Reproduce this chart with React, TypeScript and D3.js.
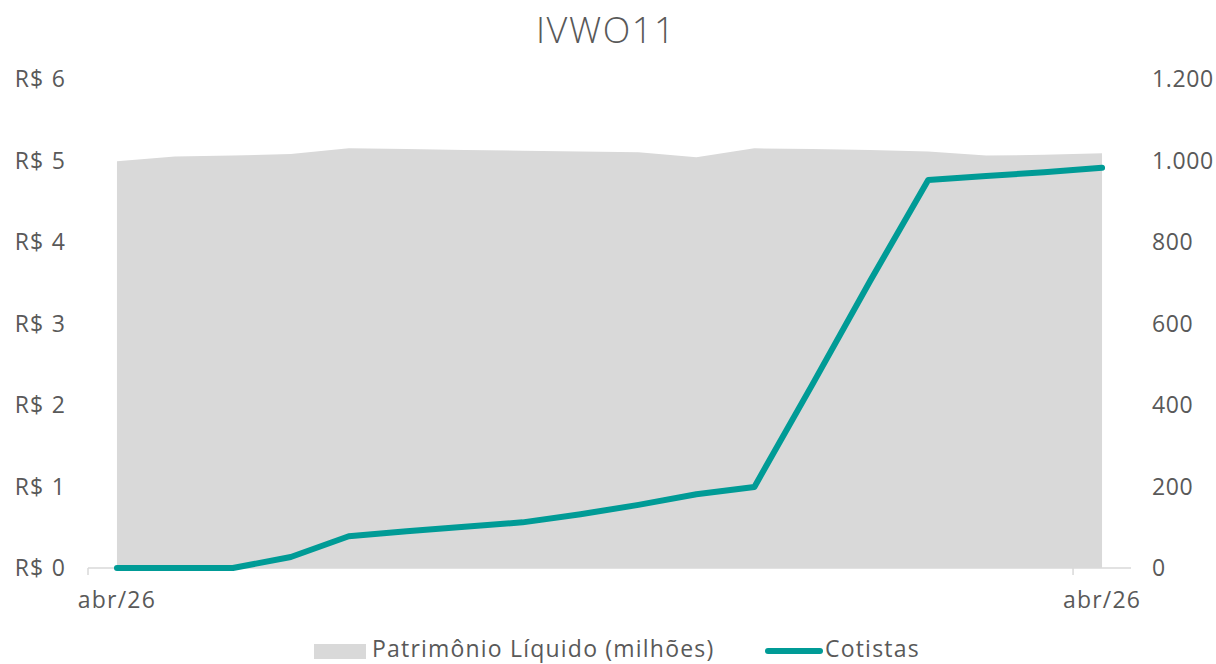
import React from "react";
import * as d3 from "d3";

const title = "IVWO11";
const xLabels = ["abr/26", "abr/26"];
const patrimonio = [4.99, 5.05, 5.06, 5.08, 5.15, 5.14, 5.13, 5.12, 5.11, 5.1, 5.04, 5.15, 5.14, 5.13, 5.11, 5.06, 5.07, 5.09];
const cotistas = [0, 0, 0, 27, 78, 90, 101, 112, 132, 155, 181, 199, 450, 705, 952, 962, 971, 982];
const leftTicks = [0, 1, 2, 3, 4, 5, 6];
const rightTicks = [0, 200, 400, 600, 800, 1000, 1200];
const legendLabels = ["Patrimônio Líquido (milhões)", "Cotistas"];

const W = 1216;
const H = 664;
const FONT = "'Open Sans', sans-serif";
const TEXT = "#595959";
const LS = 1.2;

export default function App() {
  const n = patrimonio.length;
  const x = d3.scaleLinear().domain([-0.5, n - 0.5]).range([88, 1131]);
  const yL = d3.scaleLinear().domain([0, 6]).range([568, 79]);
  const yR = d3.scaleLinear().domain([0, 1200]).range([568, 79]);

  const area = d3
    .area<number>()
    .x((_, i) => x(i))
    .y0(yL(0))
    .y1((d) => yL(d));
  const line = d3
    .line<number>()
    .x((_, i) => x(i))
    .y((d) => yR(d));

  const fmtR = (v: number) => d3.format(",")(v).replace(/,/g, ".");

  return (
    <svg width={W} height={H} style={{ position: "absolute", left: 0, top: 0, background: "#fff" }} fontFamily={FONT}>
      <text x={606} y={43} textAnchor="middle" fontSize={36} fill={TEXT} fontWeight={300} letterSpacing={1.6}>
        {title}
      </text>
      <path d={area(patrimonio) ?? ""} fill="#D9D9D9" />
      <line x1={x(-0.5)} x2={x(n - 0.5)} y1={yL(0)} y2={yL(0)} stroke="#D9D9D9" strokeWidth={1.5} />
      {[-0.5, n - 1.5].map((t, i) => (
        <line key={i} x1={x(t)} x2={x(t)} y1={yL(0)} y2={yL(0) + 7} stroke="#D9D9D9" strokeWidth={1.5} />
      ))}
      <path d={line(cotistas) ?? ""} fill="none" stroke="#009B96" strokeWidth={6} strokeLinecap="round" strokeLinejoin="round" />
      {leftTicks.map((t) => (
        <text key={t} x={66} y={yL(t) + 8} textAnchor="end" fontSize={23} fill={TEXT} letterSpacing={LS}>
          {`R$ ${t}`}
        </text>
      ))}
      {rightTicks.map((t) => (
        <text key={t} x={1152} y={yR(t) + 8} textAnchor="start" fontSize={23} fill={TEXT} letterSpacing={0.6}>
          {fmtR(t)}
        </text>
      ))}
      {[0, n - 1].map((t, i) => (
        <text key={i} x={x(t)} y={608} textAnchor="middle" fontSize={23} fill={TEXT} letterSpacing={LS}>
          {xLabels[i]}
        </text>
      ))}
      <rect x={314} y={644} width={52} height={15} fill="#D9D9D9" />
      <text x={372} y={657} fontSize={23} fill={TEXT} letterSpacing={LS}>
        {legendLabels[0]}
      </text>
      <line x1={768} x2={820} y1={651} y2={651} stroke="#009B96" strokeWidth={6} strokeLinecap="round" />
      <text x={825} y={657} fontSize={23} fill={TEXT} letterSpacing={LS}>
        {legendLabels[1]}
      </text>
    </svg>
  );
}
